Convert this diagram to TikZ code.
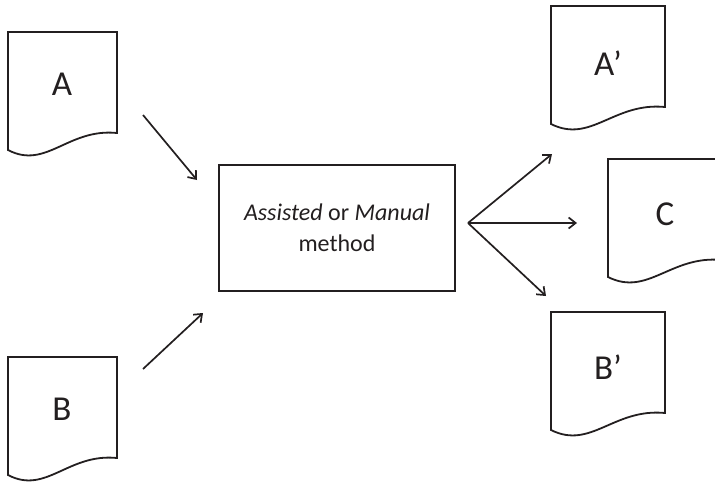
\documentclass[tikz,border=0pt]{standalone}
\usepackage{fontspec}
\setmainfont{Carlito}
\usetikzlibrary{arrows.meta}
\definecolor{ink}{HTML}{231F20}
\tikzset{
  docline/.style={draw=ink, line width=1.8pt, line join=miter},
  doclabel/.style={font=\fontsize{35}{40}\selectfont, text=ink, inner sep=0pt},
  procbox/.style={draw=ink, line width=1.8pt, minimum width=236pt, minimum height=126pt, inner sep=0pt,
    align=center, font=\fontsize{24}{31}\selectfont, text=ink},
  arr/.style={draw=ink, line width=1.7pt, -{Straight Barb[length=7pt,width=11pt]}}
}
\newcommand{\docshape}[3]{% L, R, T
  \draw[docline] ({#1},{#3+118}) -- ({#1},{#3}) -- ({#2},{#3}) -- ({#2},{#3+101})
    .. controls ({#1+0.55*(#2-#1)},{#3+96}) and ({#1+0.35*(#2-#1)},{#3+138}) .. cycle;
}
\begin{document}
\begin{tikzpicture}[x=1pt,y=-1pt]
\useasboundingbox (0,0) rectangle (715,485);
\clip (0,0) rectangle (715,485);
% documents
\docshape{8}{117}{32}
\docshape{8}{117}{357}
\docshape{551}{665}{6}
\docshape{608}{722}{159}
\docshape{551}{665}{312}
\node[doclabel] (A) at (62,84) {A};
\node[doclabel] (B) at (62,409) {B};
\node[doclabel] (Ap) at (608,63) {A’};
\node[doclabel] (C) at (665,214) {C};
\node[doclabel] (Bp) at (608,367) {B’};
% process box
\node[procbox] (box) at (337,228) {\textit{Assisted} or \textit{Manual}\\method};
% arrow endpoints
\coordinate (a1) at (143,115);
\coordinate (a2) at (197,180);
\coordinate (b1) at (143,369);
\coordinate (b2) at (203,313);
\coordinate (o) at (468,223);
\coordinate (ap) at (552,154);
\coordinate (c) at (577,223);
\coordinate (bp) at (546,296);
\draw[arr] (a1) -- (a2);
\draw[arr] (b1) -- (b2);
\draw[arr] (o) -- (ap);
\draw[arr] (o) -- (c);
\draw[arr] (o) -- (bp);
\end{tikzpicture}
\end{document}
